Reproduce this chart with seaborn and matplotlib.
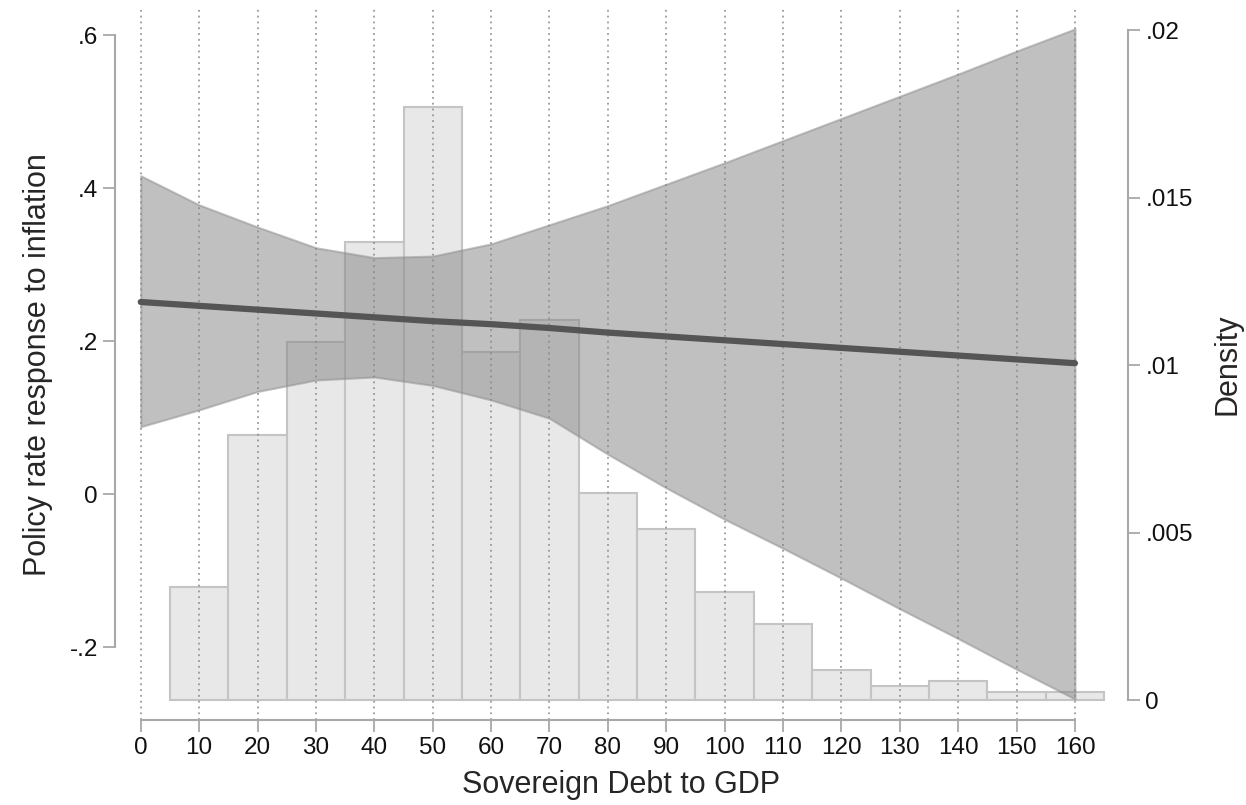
import numpy as np
import pandas as pd
import matplotlib
matplotlib.use("Agg")
import matplotlib.pyplot as plt
import seaborn as sns

# data
debt = [0, 10, 20, 30, 40, 50, 60, 70, 80, 90, 100, 110, 120, 130, 140, 150, 160]
effect = [0.251, 0.246, 0.241, 0.236, 0.231, 0.226, 0.222, 0.217, 0.211, 0.206, 0.201,
          0.196, 0.191, 0.186, 0.181, 0.176, 0.171]
ci_upper = [0.416, 0.378, 0.349, 0.322, 0.309, 0.311, 0.327, 0.352, 0.377, 0.405, 0.433,
            0.462, 0.491, 0.520, 0.549, 0.579, 0.608]
ci_lower = [0.088, 0.110, 0.134, 0.149, 0.153, 0.142, 0.123, 0.099, 0.052, 0.008, -0.033,
            -0.071, -0.110, -0.150, -0.189, -0.229, -0.268]

bin_edges = [5, 15, 25, 35, 45, 55, 65, 75, 85, 95, 105, 115, 125, 135, 145, 155, 165]
bin_mids = [10, 20, 30, 40, 50, 60, 70, 80, 90, 100, 110, 120, 130, 140, 150, 160]
density = [0.00337, 0.00791, 0.01069, 0.01367, 0.0177, 0.01039, 0.01134, 0.00618, 0.0051,
           0.00322, 0.00227, 0.0009, 0.00042, 0.00057, 0.00024, 0.00024]

sns.set_style("white")
plt.rcParams['font.family'] = ['Liberation Sans', 'DejaVu Sans']

fig = plt.figure(figsize=(12.46, 8.05), dpi=100)
# axes spans px 132..1110 horizontally, 9..720 vertically
ax = fig.add_axes([132 / 1246, 85 / 805, 978 / 1246, 711 / 805])
ax2 = ax.twinx()

# histogram on the density axis (drawn underneath)
sns.histplot(x=bin_mids, weights=density, bins=bin_edges, ax=ax2,
             color="#e8e8e8", edgecolor="#c4c4c4", linewidth=1.5, alpha=1)

# put the effect axis above the histogram
ax.set_zorder(ax2.get_zorder() + 1)
ax.patch.set_visible(False)

# confidence band and fitted line
ax.fill_between(debt, ci_lower, ci_upper, color="#868686", alpha=0.52,
                edgecolor="#8e8e8e", linewidth=1.5)
sns.lineplot(x=debt, y=effect, ax=ax, color="#555555", linewidth=4.5)

# vertical dotted grid
for v in range(0, 161, 10):
    ax.axvline(v, color="#8a8a8a", linestyle=(0, (1.2, 2.6)), linewidth=1.1, zorder=0)

ax.set_xlim(-1.5, 166)
ax.set_ylim(-0.2954, 0.634)
ax2.set_ylim(-0.000597, 0.020627)

ax.set_xticks(range(0, 161, 10))
ax.set_yticks([-0.2, 0, 0.2, 0.4, 0.6])
ax.set_yticklabels(["-.2", "0", ".2", ".4", ".6"])
ax2.set_yticks([0, 0.005, 0.01, 0.015, 0.02])
ax2.set_yticklabels(["0", ".005", ".01", ".015", ".02"])

spine_col = "#a8a8a8"
for a in (ax, ax2):
    for s in a.spines.values():
        s.set_visible(False)
    a.tick_params(labelcolor="#111111", labelsize=17.5, length=8.5, width=1.3,
                  color=spine_col, pad=4)
ax.tick_params(axis="x", bottom=True)
ax.tick_params(axis="y", left=True)
ax2.tick_params(axis="y", right=True)

ax.spines["left"].set_visible(True)
ax.spines["left"].set_position(("outward", 12))
ax.spines["left"].set_bounds(-0.2, 0.6)
ax.spines["bottom"].set_visible(True)
ax.spines["bottom"].set_bounds(0, 160)
ax2.spines["right"].set_visible(True)
ax2.spines["right"].set_position(("outward", 13))
ax2.spines["right"].set_bounds(0, 0.02)
for s in (ax.spines["left"], ax.spines["bottom"], ax2.spines["right"]):
    s.set_color(spine_col)
    s.set_linewidth(1.5)

ax.set_xlabel("Sovereign Debt to GDP", fontsize=22, labelpad=8)
ax.set_ylabel("Policy rate response to inflation", fontsize=22, labelpad=12)
ax2.set_ylabel("Density", fontsize=22, labelpad=14)

fig.savefig("out.png", dpi=100)
